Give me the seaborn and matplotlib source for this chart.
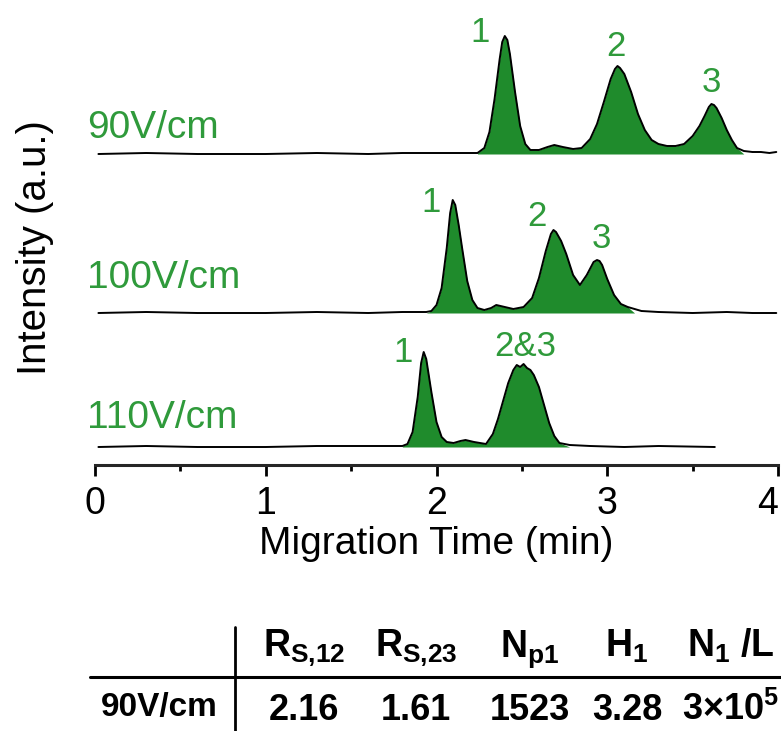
#!/usr/bin/env python3
"""
Stacked electropherograms at three field strengths, plus a small summary table.
"""

import pandas as pd
import matplotlib.pyplot as plt
from matplotlib.lines import Line2D
from matplotlib.ticker import MultipleLocator
import seaborn as sns

# ---- data (time in min, signal in a.u. above baseline) ----
t_90 = [0.02, 0.3, 0.6, 1.0, 1.3, 1.6, 1.8, 2.0, 2.1, 2.24, 2.28, 2.31, 2.34, 2.37, 2.385,
        2.40, 2.415, 2.43, 2.46, 2.49, 2.52, 2.55, 2.60, 2.65, 2.69, 2.74, 2.80, 2.85,
        2.90, 2.94, 2.98, 3.02, 3.045, 3.06, 3.075, 3.10, 3.14, 3.18, 3.22, 3.26, 3.30,
        3.35, 3.40, 3.45, 3.50, 3.54, 3.57, 3.595, 3.61, 3.625, 3.64, 3.67, 3.70, 3.73,
        3.76, 3.80, 3.85, 3.90, 3.95, 3.99]
i_90 = [0, 1, 0, 0, 1, 0, 1, 1, 1, 1, 6, 22, 55, 95, 112,
        118, 114, 100, 62, 28, 10, 4, 4, 7, 9, 7, 5, 6,
        15, 30, 52, 75, 85, 88, 86, 80, 62, 40, 24, 14, 10,
        8, 8, 10, 18, 28, 38, 47, 50, 49, 46, 36, 24, 14,
        6, 3, 2, 2, 1, 2]

t_100 = [0.02, 0.3, 0.6, 1.0, 1.3, 1.6, 1.8, 1.94, 1.97, 2.00, 2.03, 2.06, 2.08, 2.095,
         2.11, 2.13, 2.15, 2.18, 2.21, 2.24, 2.28, 2.32, 2.35, 2.40, 2.45, 2.51, 2.56,
         2.60, 2.64, 2.67, 2.685, 2.70, 2.73, 2.76, 2.80, 2.84, 2.88, 2.92, 2.94, 2.955,
         2.97, 3.00, 3.04, 3.08, 3.12, 3.16, 3.20, 3.30, 3.5, 3.7, 3.85, 3.99]
i_100 = [0, 1, 0, 0, 1, 0, 1, 1, 2, 8, 25, 65, 100, 113,
         108, 88, 65, 32, 13, 5, 3, 5, 8, 6, 4, 6, 15,
         35, 62, 79, 83, 81, 72, 59, 38, 28, 38, 51, 53, 52,
         48, 34, 18, 9, 6, 4, 2, 1, 0, 1, 0, 0]

t_110 = [0.02, 0.3, 0.6, 1.0, 1.3, 1.5, 1.8, 1.83, 1.86, 1.89, 1.91, 1.925, 1.94, 1.97,
         2.00, 2.03, 2.06, 2.10, 2.14, 2.17, 2.22, 2.29, 2.33, 2.36, 2.39, 2.42, 2.45,
         2.47, 2.49, 2.51, 2.53, 2.55, 2.57, 2.60, 2.63, 2.66, 2.69, 2.72, 2.78, 2.90,
         3.1, 3.3, 3.63]
i_110 = [0, 1, 0, 0, 1, 1, 1, 3, 15, 50, 84, 95, 88, 55,
         25, 10, 5, 4, 6, 7, 5, 3, 13, 28, 46, 64, 77,
         82, 80, 83, 79, 77, 72, 60, 42, 24, 11, 4, 2, 1,
         0, 1, 0]

fields = ["90V/cm", "100V/cm", "110V/cm"]
offsets = [311, 152, 18]              # vertical stacking of the traces
fill_ranges = [(2.24, 3.78), (1.96, 3.12), (1.80, 2.73)]

# peak labels: (text, time, height above baseline)
peak_labels = [
    [("1", 2.255, 121), ("2", 3.05, 108), ("3", 3.61, 71)],
    [("1", 1.97, 111), ("2", 2.59, 96), ("3", 2.967, 74)],
    [("1", 1.806, 95), ("2&3", 2.518, 100)],
]
field_label_height = [26, 35, 29]

# table
row_label = "90V/cm"
col_headers = [r"$\mathbf{R_{S{,}12}}$", r"$\mathbf{R_{S{,}23}}$", r"$\mathbf{N_{p1}}$",
               r"$\mathbf{H_1}$", r"$\mathbf{N_1}$ /L"]
row_values = ["2.16", "1.61", "1523", "3.28", r"3×10$^{\mathbf{5}}$"]

GREEN_FILL = "#1f8b2c"
GREEN_TEXT = "#2f9a3b"

sns.set_style("white")
plt.rcParams["font.family"] = ["Liberation Sans", "DejaVu Sans"]
plt.rcParams["mathtext.fontset"] = "custom"
plt.rcParams["mathtext.rm"] = "Liberation Sans"
plt.rcParams["mathtext.bf"] = "Liberation Sans:bold"
plt.rcParams["text.color"] = "black"
plt.rcParams["axes.labelcolor"] = "black"
plt.rcParams["xtick.color"] = "black"


def main():
    times = [t_90, t_100, t_110]
    sigs = [i_90, i_100, i_110]
    frames = []
    for name, t, s, off in zip(fields, times, sigs, offsets):
        frames.append(pd.DataFrame({"time": t, "signal": [v + off for v in s], "field": name}))
    df = pd.concat(frames, ignore_index=True)

    fig = plt.figure(figsize=(7.81, 7.31), dpi=100)
    ax = fig.add_axes([95 / 781, (731 - 465) / 731, 683 / 781, 465 / 731])

    # green filled peaks
    for name, off, (lo, hi) in zip(fields, offsets, fill_ranges):
        sub = df[df["field"] == name]
        mask = (sub["time"] >= lo) & (sub["time"] <= hi)
        ax.fill_between(sub["time"], off, sub["signal"], where=mask,
                        color=GREEN_FILL, linewidth=0, interpolate=True)

    sns.lineplot(data=df, x="time", y="signal", units="field", estimator=None,
                 color="black", linewidth=1.4, sort=False, ax=ax)

    for name, off, hgt, labs in zip(fields, offsets, field_label_height, peak_labels):
        ax.text(-0.045, off + hgt, name, color=GREEN_TEXT, fontsize=28,
                ha="left", va="center", clip_on=False)
        for txt, tx, ty in labs:
            ax.text(tx, off + ty, txt, color=GREEN_TEXT, fontsize=25,
                    ha="center", va="center")

    ax.set_xlim(0, 4)
    ax.set_ylim(0, 465)
    ax.set_yticks([])
    ax.set_xticks([0, 1, 2, 3, 4])
    ax.xaxis.set_minor_locator(MultipleLocator(0.5))
    for side in ["left", "top", "right"]:
        ax.spines[side].set_visible(False)
    ax.spines["bottom"].set_linewidth(2.2)
    ax.tick_params(axis="x", which="major", direction="out", length=8, width=2,
                   labelsize=27, pad=7, bottom=True)
    ax.tick_params(axis="x", which="minor", direction="out", length=4.5, width=2, bottom=True)
    # last tick label sits at the right edge of the figure; keep it inside
    ax.xaxis.get_major_ticks()[-1].label1.set_horizontalalignment("right")
    ax.set_xlabel("Migration Time (min)", fontsize=28, labelpad=3)
    ax.set_ylabel("")
    ax.grid(False)
    fig.text(35 / 781, 1 - 248 / 731, "Intensity (a.u.)", rotation=90, fontsize=29,
             ha="center", va="center")

    # table in pixel-like coordinates
    tab = fig.add_axes([0, 0, 1, 131 / 731])
    tab.set_xlim(0, 781)
    tab.set_ylim(731, 600)
    tab.axis("off")
    col_x = [304, 416, 530, 627, 731]
    for x, h in zip(col_x, col_headers):
        tab.text(x, 657, h, fontsize=27, fontweight="bold", ha="center", va="baseline")
    for x, v in zip(col_x, row_values):
        tab.text(x, 720, v, fontsize=26, fontweight="bold", ha="center", va="baseline")
    tab.text(159, 716, row_label, fontsize=24, fontweight="bold", ha="center", va="baseline")
    tab.add_line(Line2D([90, 781], [677, 677], color="black", linewidth=2.2))
    tab.add_line(Line2D([235, 235], [627, 731], color="black", linewidth=2.0))

    fig.savefig("out.png", dpi=100)
    plt.close(fig)


if __name__ == "__main__":
    main()
